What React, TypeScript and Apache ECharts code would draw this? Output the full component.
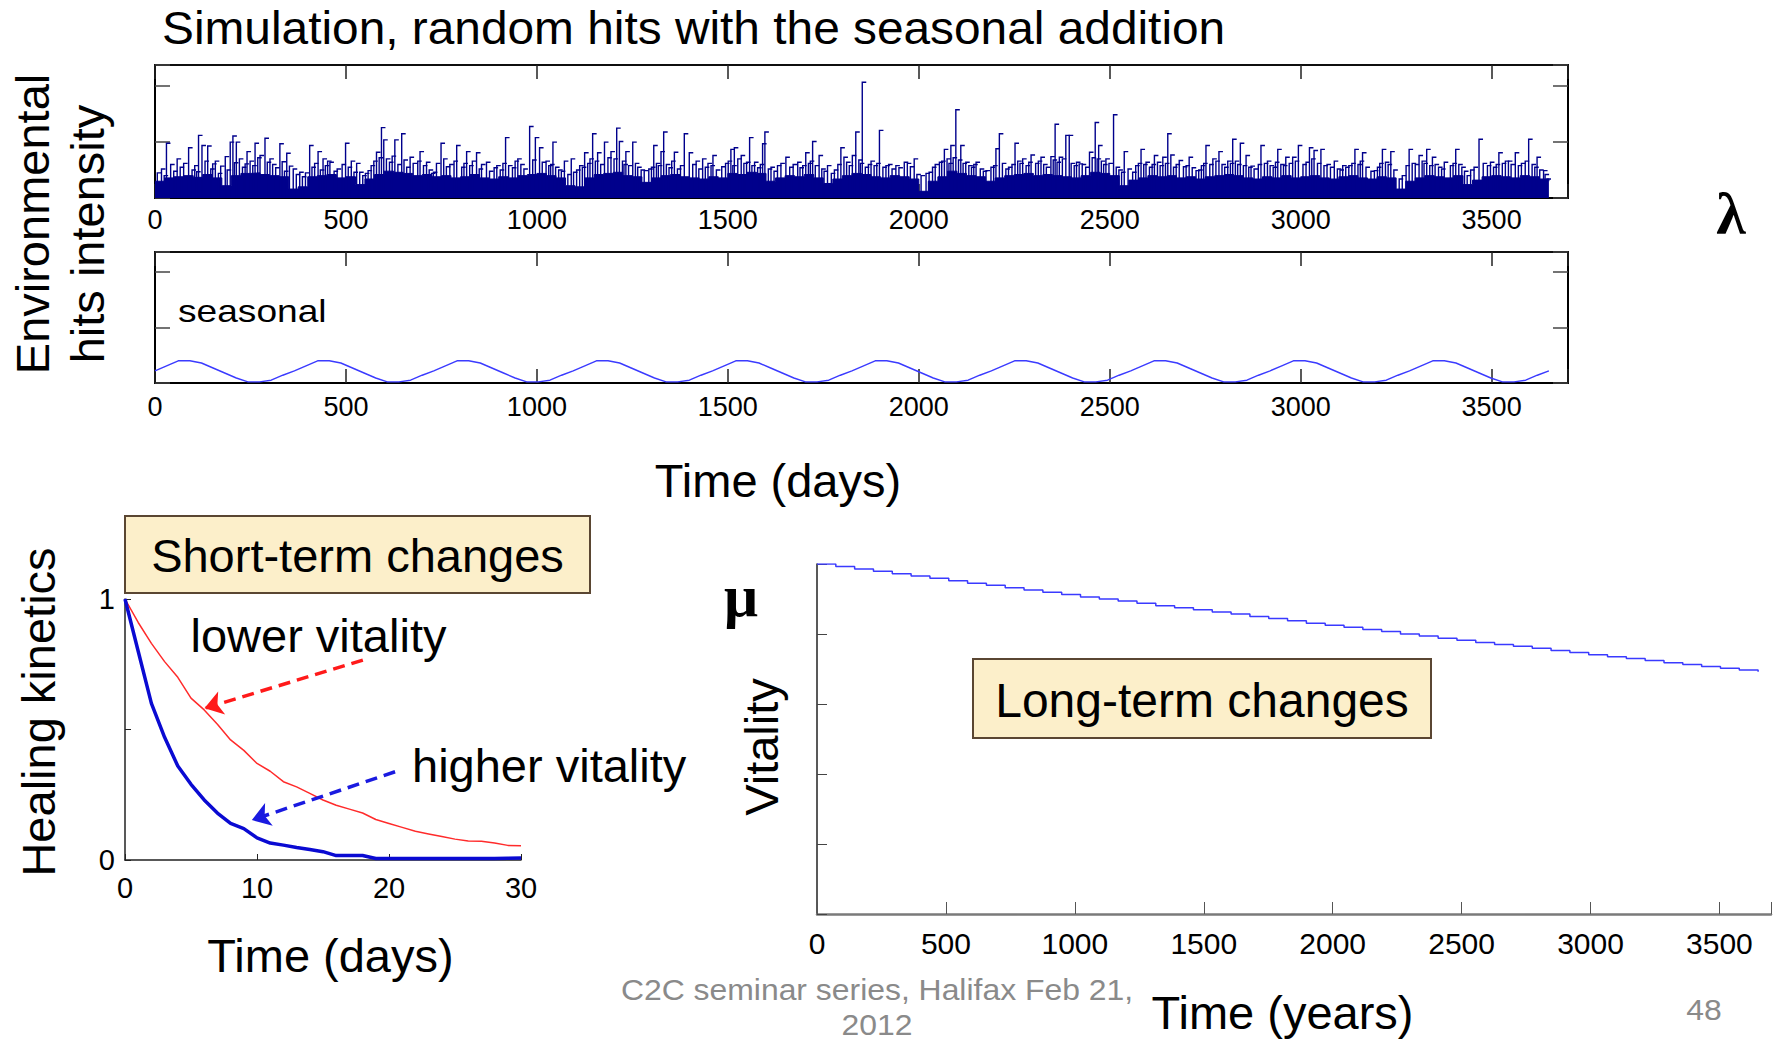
import React, { useEffect, useRef } from "react";
import * as echarts from "echarts";

// ---------- DATA ----------
// Top panel: prominent random hits (day, intensity)
const HIT_DAYS = [
  30, 58, 88, 114, 123, 138, 158, 184, 197, 204, 213, 241, 262, 275, 288, 301, 327, 345, 362, 379,
  405, 427, 440, 458, 499, 514, 536, 558, 580, 593, 599, 628, 646, 668, 694, 711, 729, 749, 790, 816,
  842, 868, 895, 918, 950, 981, 996, 1007, 1024, 1042, 1072, 1090, 1125, 1146, 1159, 1177, 1194, 1209, 1216, 1233,
  1251, 1281, 1306, 1325, 1332, 1360, 1386, 1399, 1417, 1434, 1461, 1508, 1517, 1535, 1557, 1570, 1591, 1597, 1613, 1652,
  1683, 1704, 1722, 1739, 1761, 1796, 1804, 1826, 1835, 1852, 1875, 1897, 1914, 1962, 1988, 2019, 2054, 2067, 2084, 2097,
  2110, 2123, 2150, 2176, 2202, 2211, 2228, 2252, 2272, 2294, 2320, 2346, 2357, 2368, 2385, 2394, 2420, 2447, 2462, 2471,
  2490, 2510, 2538, 2560, 2582, 2595, 2617, 2639, 2652, 2660, 2682, 2708, 2726, 2752, 2770, 2786, 2809, 2822, 2842, 2857,
  2870, 2896, 2913, 2940, 2961, 2979, 2994, 3023, 3035, 3053, 3088, 3110, 3142, 3162, 3193, 3214, 3236, 3258, 3284, 3310,
  3330, 3345, 3376, 3406, 3436, 3467, 3497, 3519, 3536, 3562, 3597, 3619, 3636, 3645,
];
const HIT_VALUES = [
  0.98, 0.7, 0.9, 1.12, 0.94, 0.93, 0.66, 0.74, 1.0, 1.11, 1.0, 0.83, 0.98, 0.76, 1.07, 0.7, 0.97, 0.8, 0.52, 0.46,
  0.94, 0.83, 0.7, 0.64, 0.98, 0.66, 0.46, 0.49, 0.82, 1.26, 1.04, 1.04, 1.15, 0.73, 0.83, 0.64, 0.46, 0.98, 0.94, 0.83,
  0.81, 0.64, 0.58, 1.08, 0.7, 1.28, 1.08, 0.9, 0.66, 1.0, 0.66, 0.7, 0.81, 1.15, 0.81, 1.0, 0.83, 1.25, 1.01, 0.83,
  1.0, 0.49, 0.94, 0.83, 1.18, 0.82, 1.15, 0.81, 0.66, 0.7, 0.76, 0.87, 0.9, 0.76, 1.08, 0.64, 0.97, 1.18, 0.55, 0.73,
  0.64, 0.81, 1.01, 0.76, 0.58, 0.9, 0.73, 0.76, 1.18, 2.07, 0.66, 1.21, 0.58, 0.64, 0.7, 0.44, 0.64, 0.87, 0.94, 1.58,
  0.94, 0.64, 0.64, 0.49, 0.88, 1.15, 0.52, 0.98, 0.7, 0.77, 0.73, 0.74, 1.32, 0.73, 1.12, 1.12, 0.61, 0.82, 1.35, 0.94,
  0.7, 1.49, 0.83, 0.46, 0.87, 0.64, 0.76, 0.73, 1.15, 0.77, 0.67, 0.73, 0.49, 0.94, 0.7, 0.83, 0.66, 1.05, 0.98, 0.76,
  0.57, 0.94, 0.66, 0.87, 0.73, 0.73, 0.94, 0.9, 0.85, 0.87, 0.66, 0.58, 0.87, 0.81, 0.49, 0.87, 0.83, 0.34, 0.87, 0.76,
  0.87, 0.73, 0.64, 0.87, 0.4, 1.05, 0.64, 0.81, 0.66, 0.81, 1.05, 0.73, 0.49, 0.34,
];
// Smaller hits forming the dense texture (day, intensity)
const MID_HIT_DAYS = [
  6, 17, 24, 41, 49, 66, 75, 97, 104, 109, 131, 146, 151, 166, 172, 189,
  208, 221, 229, 236, 249, 256, 269, 294, 308, 316, 333, 339, 352, 370, 386, 394,
  411, 418, 433, 446, 452, 469, 477, 490, 506, 521, 528, 544, 551, 566, 573, 587,
  606, 614, 621, 636, 652, 659, 676, 688, 703, 718, 724, 737, 756, 763, 772, 783,
  803, 809, 824, 831, 849, 855, 876, 888, 904, 911, 926, 936, 943, 958, 966, 989,
  1014, 1031, 1036, 1049, 1057, 1064, 1081, 1096, 1104, 1112, 1119, 1133, 1139, 1153, 1167, 1186,
  1202, 1224, 1228, 1240, 1258, 1264, 1273, 1293, 1300, 1313, 1318, 1339, 1346, 1353, 1368, 1376,
  1408, 1424, 1441, 1448, 1456, 1470, 1484, 1494, 1501, 1513, 1526, 1542, 1549, 1563, 1578, 1585,
  1606, 1621, 1630, 1639, 1662, 1671, 1689, 1696, 1711, 1716, 1729, 1746, 1752, 1771, 1779, 1788,
  1811, 1818, 1843, 1847, 1860, 1868, 1883, 1890, 1906, 1921, 1930, 1940, 1948, 1970, 1978, 1995,
  2006, 2027, 2036, 2043, 2060, 2074, 2079, 2090, 2104, 2116, 2131, 2138, 2144, 2161, 2169, 2189,
  2196, 2219, 2235, 2244, 2259, 2265, 2281, 2288, 2306, 2313, 2327, 2334, 2352, 2362, 2376, 2399,
  2407, 2413, 2428, 2437, 2454, 2467, 2478, 2484, 2498, 2517, 2524, 2531, 2548, 2568, 2575, 2589,
  2604, 2611, 2625, 2632, 2646, 2667, 2674, 2693, 2700, 2716, 2733, 2740, 2746, 2762, 2778, 2794,
  2801, 2816, 2829, 2835, 2850, 2864, 2878, 2889, 2905, 2920, 2928, 2934, 2948, 2955, 2970, 2986,
  3006, 3014, 3029, 3044, 3061, 3069, 3078, 3096, 3103, 3118, 3126, 3134, 3150, 3156, 3171, 3184,
  3201, 3207, 3222, 3229, 3244, 3266, 3276, 3292, 3300, 3318, 3323, 3338, 3352, 3361, 3369, 3392,
  3399, 3414, 3422, 3429, 3445, 3454, 3478, 3489, 3505, 3512, 3528, 3544, 3551, 3570, 3578, 3588,
  3606, 3613, 3626, 3640,
];
const MID_HIT_VALUES = [
  0.45, 0.52, 0.4, 0.6, 0.48, 0.55, 0.62, 0.5, 0.58, 0.47, 0.66, 0.52, 0.61, 0.44, 0.57, 0.5,
  0.63, 0.7, 0.55, 0.61, 0.66, 0.58, 0.72, 0.64, 0.6, 0.54, 0.65, 0.48, 0.57, 0.42, 0.38, 0.45,
  0.55, 0.62, 0.5, 0.58, 0.66, 0.48, 0.52, 0.6, 0.55, 0.46, 0.62, 0.4, 0.44, 0.58, 0.66, 0.72,
  0.7, 0.64, 0.75, 0.6, 0.68, 0.55, 0.62, 0.66, 0.58, 0.5, 0.44, 0.62, 0.7, 0.56, 0.6, 0.66,
  0.55, 0.62, 0.58, 0.66, 0.52, 0.6, 0.48, 0.54, 0.5, 0.62, 0.58, 0.54, 0.66, 0.6, 0.52, 0.68,
  0.64, 0.58, 0.6, 0.55, 0.5, 0.48, 0.42, 0.46, 0.5, 0.58, 0.55, 0.62, 0.7, 0.66, 0.6, 0.72,
  0.7, 0.66, 0.6, 0.58, 0.62, 0.55, 0.5, 0.52, 0.55, 0.62, 0.58, 0.6, 0.54, 0.66, 0.52, 0.58,
  0.6, 0.52, 0.55, 0.62, 0.58, 0.5, 0.56, 0.62, 0.66, 0.58, 0.7, 0.62, 0.64, 0.58, 0.54, 0.6,
  0.52, 0.48, 0.58, 0.62, 0.55, 0.6, 0.54, 0.58, 0.62, 0.66, 0.58, 0.52, 0.48, 0.44, 0.5, 0.6,
  0.64, 0.58, 0.68, 0.62, 0.55, 0.6, 0.58, 0.62, 0.55, 0.6, 0.52, 0.58, 0.54, 0.62, 0.56, 0.42,
  0.4, 0.46, 0.55, 0.6, 0.66, 0.7, 0.62, 0.72, 0.68, 0.62, 0.58, 0.55, 0.6, 0.52, 0.48, 0.55,
  0.58, 0.62, 0.55, 0.6, 0.66, 0.62, 0.58, 0.64, 0.62, 0.66, 0.6, 0.55, 0.68, 0.64, 0.7, 0.62,
  0.58, 0.64, 0.6, 0.55, 0.72, 0.7, 0.66, 0.6, 0.62, 0.55, 0.5, 0.46, 0.52, 0.58, 0.62, 0.6,
  0.55, 0.6, 0.64, 0.58, 0.62, 0.55, 0.6, 0.56, 0.58, 0.54, 0.5, 0.58, 0.62, 0.6, 0.66, 0.6,
  0.55, 0.62, 0.66, 0.6, 0.58, 0.55, 0.52, 0.6, 0.62, 0.58, 0.55, 0.64, 0.6, 0.58, 0.62, 0.66,
  0.6, 0.64, 0.7, 0.62, 0.58, 0.6, 0.55, 0.52, 0.5, 0.55, 0.58, 0.62, 0.6, 0.66, 0.55, 0.48,
  0.55, 0.62, 0.64, 0.6, 0.5, 0.4, 0.58, 0.62, 0.6, 0.66, 0.62, 0.58, 0.6, 0.55, 0.52, 0.58,
  0.62, 0.6, 0.55, 0.48, 0.5, 0.55, 0.62, 0.58, 0.55, 0.6, 0.62, 0.66, 0.6, 0.58, 0.62, 0.66,
  0.6, 0.55, 0.5, 0.42,
];
// Dense low-level hits envelope, one value every 25 days
const BASE_STEP_DAYS = 25;
const BASE_VALUES = [
  0.3, 0.36, 0.38, 0.4, 0.37, 0.42, 0.36, 0.22, 0.4, 0.44,
  0.45, 0.42, 0.4, 0.38, 0.16, 0.2, 0.38, 0.4, 0.42, 0.36,
  0.38, 0.24, 0.34, 0.42, 0.48, 0.46, 0.44, 0.4, 0.42, 0.38,
  0.4, 0.36, 0.38, 0.42, 0.36, 0.34, 0.38, 0.36, 0.4, 0.42,
  0.44, 0.4, 0.36, 0.22, 0.2, 0.36, 0.42, 0.44, 0.46, 0.4,
  0.38, 0.28, 0.36, 0.4, 0.42, 0.38, 0.36, 0.34, 0.38, 0.36,
  0.44, 0.42, 0.46, 0.44, 0.3, 0.36, 0.4, 0.38, 0.42, 0.36,
  0.26, 0.34, 0.4, 0.44, 0.42, 0.38, 0.36, 0.4, 0.38, 0.34,
  0.12, 0.3, 0.38, 0.48, 0.44, 0.4, 0.38, 0.3, 0.36, 0.4,
  0.42, 0.44, 0.4, 0.42, 0.4, 0.38, 0.36, 0.4, 0.46, 0.44,
  0.4, 0.22, 0.32, 0.36, 0.4, 0.38, 0.4, 0.36, 0.38, 0.34,
  0.38, 0.4, 0.42, 0.4, 0.36, 0.34, 0.38, 0.36, 0.4, 0.36,
  0.38, 0.4, 0.36, 0.34, 0.38, 0.4, 0.36, 0.34, 0.38, 0.36,
  0.16, 0.3, 0.36, 0.4, 0.38, 0.36, 0.4, 0.24, 0.32, 0.38,
  0.4, 0.38, 0.36, 0.4, 0.38, 0.34, 0.3,
];
// Seasonal addition, one value per month (10 years)
const SEASON_STEP_DAYS = 365 / 12;
const SEASONAL_VALUES = [
  0.22, 0.31, 0.4, 0.4, 0.36, 0.27, 0.18, 0.09, 0.02, 0.02, 0.05, 0.14,
  0.22, 0.31, 0.4, 0.4, 0.36, 0.27, 0.18, 0.09, 0.02, 0.02, 0.05, 0.14,
  0.22, 0.31, 0.4, 0.4, 0.36, 0.27, 0.18, 0.09, 0.02, 0.02, 0.05, 0.14,
  0.22, 0.31, 0.4, 0.4, 0.36, 0.27, 0.18, 0.09, 0.02, 0.02, 0.05, 0.14,
  0.22, 0.31, 0.4, 0.4, 0.36, 0.27, 0.18, 0.09, 0.02, 0.02, 0.05, 0.14,
  0.22, 0.31, 0.4, 0.4, 0.36, 0.27, 0.18, 0.09, 0.02, 0.02, 0.05, 0.14,
  0.22, 0.31, 0.4, 0.4, 0.36, 0.27, 0.18, 0.09, 0.02, 0.02, 0.05, 0.14,
  0.22, 0.31, 0.4, 0.4, 0.36, 0.27, 0.18, 0.09, 0.02, 0.02, 0.05, 0.14,
  0.22, 0.31, 0.4, 0.4, 0.36, 0.27, 0.18, 0.09, 0.02, 0.02, 0.05, 0.14,
  0.22, 0.31, 0.4, 0.4, 0.36, 0.27, 0.18, 0.09, 0.02, 0.02, 0.05, 0.14,
  0.22,
];
// Healing kinetics (days 0..30)
const HEAL_DAYS = [
  0, 1, 2, 3, 4, 5, 6, 7, 8, 9, 10, 11, 12, 13, 14, 15, 16, 17, 18, 19, 20, 21, 22, 23, 24, 25, 26, 27, 28, 29, 30,
];
const HEAL_LOWER = [
  1.0, 0.91, 0.83, 0.76, 0.7, 0.62, 0.575, 0.52, 0.46, 0.42, 0.37, 0.34, 0.3, 0.28, 0.255, 0.23,
  0.21, 0.195, 0.18, 0.155, 0.14, 0.125, 0.11, 0.1, 0.09, 0.08, 0.073, 0.072, 0.065, 0.056, 0.055,
];
const HEAL_HIGHER = [
  1.0, 0.8, 0.6, 0.47, 0.36, 0.29, 0.23, 0.18, 0.14, 0.12, 0.085, 0.065, 0.057, 0.048, 0.04, 0.032,
  0.017, 0.017, 0.017, 0.006, 0.006, 0.006, 0.006, 0.006, 0.006, 0.006, 0.006, 0.006, 0.006, 0.007, 0.008,
];
// Vitality, one step every 73 days
const VITALITY_STEP_DAYS = 73;
const VITALITY_VALUES = [
  1.0, 0.993, 0.986, 0.979, 0.972, 0.966, 0.959, 0.952, 0.945, 0.939,
  0.932, 0.926, 0.919, 0.913, 0.906, 0.9, 0.894, 0.888, 0.881, 0.875,
  0.869, 0.863, 0.857, 0.85, 0.844, 0.838, 0.831, 0.825, 0.819, 0.813,
  0.807, 0.8, 0.794, 0.788, 0.782, 0.776, 0.77, 0.765, 0.759, 0.753,
  0.747, 0.741, 0.735, 0.73, 0.724, 0.718, 0.713, 0.707, 0.702, 0.697,
  0.692,
];
const DAY_TICK_STEP = 500;
const HEAL_TICKS_SHOWN = [0, 1];

// ---------- STYLE ----------
const NAVY = "#00008c";
const SANS = "'Liberation Sans', Arial, Helvetica, sans-serif";
const NARROW = "'Liberation Sans Narrow', 'Arial Narrow', 'Liberation Sans', Arial, sans-serif";
const SERIF = "'Liberation Serif', 'DejaVu Serif', serif";

const dayLabel = (v: number) => (v % DAY_TICK_STEP === 0 ? String(v) : "");

function frameX(gridIndex: number, position: "top" | "bottom", labels: boolean, margin = 8): any {
  return {
    type: "value",
    gridIndex,
    position,
    min: 0,
    max: 3700,
    interval: DAY_TICK_STEP,
    axisLine: { show: true, onZero: false, lineStyle: { color: "#000", width: position === "bottom" ? 2 : 1.5 } },
    axisTick: { show: true, inside: true, length: 14, lineStyle: { color: "#222", width: 1.5 } },
    axisLabel: labels
      ? { show: true, fontSize: 27, fontFamily: NARROW, color: "#000", margin, formatter: dayLabel }
      : { show: false },
    splitLine: { show: false },
  };
}
function frameY(gridIndex: number, position: "left" | "right", max: number): any {
  return {
    type: "value",
    gridIndex,
    position,
    min: 0,
    max,
    interval: 1,
    axisLine: { show: true, onZero: false, lineStyle: { color: "#000", width: 2 } },
    axisTick: { show: true, inside: true, length: 15, lineStyle: { color: "#444", width: 1.5 } },
    axisLabel: { show: false },
    splitLine: { show: false },
  };
}

function txt(
  text: string,
  x: number,
  y: number,
  opts: { size?: number; align?: string; rotation?: number; scaleX?: number; color?: string; family?: string; weight?: string } = {}
): any {
  const align = opts.align || "center";
  return {
    type: "text",
    x,
    y,
    z: 100,
    rotation: opts.rotation || 0,
    scaleX: opts.scaleX || 1,
    style: {
      text,
      fontSize: opts.size || 47,
      fontFamily: opts.family || SANS,
      fontWeight: opts.weight || "normal",
      fill: opts.color || "#000",
      align,
      verticalAlign: "middle",
      textAlign: align,
      textVerticalAlign: "middle",
    },
  };
}

function spikeRenderer(params: any, api: any) {
  const d = api.value(0);
  const v = api.value(1);
  const p0 = api.coord([d, 0]);
  const p1 = api.coord([d, v]);
  return {
    type: "polyline",
    shape: { points: [p0, p1, [p1[0] + 4, p1[1]]] },
    style: { stroke: NAVY, lineWidth: 1.4, fill: null },
  };
}

function buildOption(): any {
  const hits = HIT_DAYS.map((d, i) => [d, HIT_VALUES[i]]);
  const midHits = MID_HIT_DAYS.map((d, i) => [d, MID_HIT_VALUES[i]]);
  const base = BASE_VALUES.map((v, i) => [i * BASE_STEP_DAYS, v]);
  const seasonal = SEASONAL_VALUES.map((v, i) => [i * SEASON_STEP_DAYS, v]);
  const lower = HEAL_DAYS.map((d, i) => [d, HEAL_LOWER[i]]);
  const higher = HEAL_DAYS.map((d, i) => [d, HEAL_HIGHER[i]]);
  const vitality = VITALITY_VALUES.map((v, i) => [i * VITALITY_STEP_DAYS, v]);

  return {
    animation: false,
    backgroundColor: "#fff",
    grid: [
      { left: 155, top: 65, width: 1413, height: 133, show: true, borderColor: "#000", borderWidth: 1.5, backgroundColor: "transparent" },
      { left: 155, top: 252, width: 1413, height: 131, show: true, borderColor: "#000", borderWidth: 1.5, backgroundColor: "transparent" },
      { left: 125, top: 599, width: 396, height: 261 },
      { left: 817, top: 564, width: 954, height: 350 },
    ],
    xAxis: [
      frameX(0, "bottom", true, 8),
      frameX(0, "top", false),
      frameX(1, "bottom", true, 10),
      frameX(1, "top", false),
      {
        type: "value",
        gridIndex: 2,
        min: 0,
        max: 30,
        interval: 10,
        axisLine: { show: true, onZero: false, lineStyle: { color: "#222", width: 1.5 } },
        axisTick: { show: true, inside: true, length: 6, lineStyle: { color: "#222" } },
        axisLabel: { fontSize: 29, fontFamily: SANS, color: "#000", margin: 13 },
        splitLine: { show: false },
      },
      {
        type: "value",
        gridIndex: 3,
        min: 0,
        max: 3700,
        interval: DAY_TICK_STEP,
        axisLine: { show: true, onZero: false, lineStyle: { color: "#7a7a7a", width: 2.5 } },
        axisTick: { show: true, inside: true, length: 12, lineStyle: { color: "#555", width: 1 } },
        axisLabel: { fontSize: 30, fontFamily: SANS, color: "#000", margin: 14, formatter: dayLabel },
        splitLine: { show: false },
      },
    ],
    yAxis: [
      frameY(0, "left", 2.38),
      frameY(0, "right", 2.38),
      frameY(1, "left", 2.36),
      frameY(1, "right", 2.36),
      {
        type: "value",
        gridIndex: 2,
        min: 0,
        max: 1,
        interval: 0.5,
        axisLine: { show: true, onZero: false, lineStyle: { color: "#222", width: 1.5 } },
        axisTick: { show: true, inside: true, length: 6, lineStyle: { color: "#222" } },
        axisLabel: {
          fontSize: 29,
          fontFamily: SANS,
          color: "#000",
          margin: 10,
          formatter: (v: number) => (HEAL_TICKS_SHOWN.indexOf(v) >= 0 ? String(v) : ""),
        },
        splitLine: { show: false },
      },
      {
        type: "value",
        gridIndex: 3,
        min: 0,
        max: 1,
        interval: 0.2,
        axisLine: { show: true, onZero: false, lineStyle: { color: "#222", width: 1.5 } },
        axisTick: { show: true, inside: true, length: 10, lineStyle: { color: "#444" } },
        axisLabel: { show: false },
        splitLine: { show: false },
      },
    ],
    series: [
      {
        type: "line",
        xAxisIndex: 0,
        yAxisIndex: 0,
        step: "end",
        data: base,
        showSymbol: false,
        symbol: "none",
        lineStyle: { color: NAVY, width: 1 },
        areaStyle: { color: NAVY, opacity: 1 },
        z: 2,
      },
      {
        type: "custom",
        xAxisIndex: 0,
        yAxisIndex: 0,
        data: midHits,
        z: 3,
        renderItem: spikeRenderer,
      },
      {
        type: "custom",
        xAxisIndex: 0,
        yAxisIndex: 0,
        data: hits,
        z: 4,
        renderItem: spikeRenderer,
      },
      {
        type: "line",
        xAxisIndex: 2,
        yAxisIndex: 2,
        data: seasonal,
        showSymbol: false,
        symbol: "none",
        lineStyle: { color: "#3b3bff", width: 1.4 },
      },
      {
        type: "line",
        xAxisIndex: 4,
        yAxisIndex: 4,
        data: lower,
        showSymbol: false,
        symbol: "none",
        lineStyle: { color: "#ff2b2b", width: 1.5 },
        markLine: {
          silent: true,
          symbol: ["none", "arrow"],
          symbolSize: 18,
          label: { show: false },
          lineStyle: { color: "#ff1a1a", width: 3.5, type: [12, 7] },
          data: [[{ coord: [18.02, 0.766] }, { coord: [6.02, 0.581] }]],
        },
      },
      {
        type: "line",
        xAxisIndex: 4,
        yAxisIndex: 4,
        data: higher,
        showSymbol: false,
        symbol: "none",
        lineStyle: { color: "#0a0ad2", width: 3.5 },
        markLine: {
          silent: true,
          symbol: ["none", "arrow"],
          symbolSize: 18,
          label: { show: false },
          lineStyle: { color: "#1a1ae0", width: 3.5, type: [12, 7] },
          data: [[{ coord: [20.46, 0.338] }, { coord: [9.61, 0.153] }]],
        },
      },
      {
        type: "line",
        xAxisIndex: 5,
        yAxisIndex: 5,
        step: "end",
        data: vitality,
        showSymbol: false,
        symbol: "none",
        lineStyle: { color: "#3a3aff", width: 1.5 },
      },
    ],
    graphic: [
      txt("Simulation, random hits with the seasonal addition", 162, 28, { size: 46, align: "left", scaleX: 1.04 }),
      txt("Environmental", 32, 224, { rotation: Math.PI / 2 }),
      txt("hits intensity", 87, 234, { rotation: Math.PI / 2 }),
      txt("seasonal", 178, 311, { size: 32, align: "left", scaleX: 1.16 }),
      txt("\u03bb", 1731, 214, { size: 60, family: SERIF, weight: "bold" }),
      txt("Time (days)", 778, 480),
      {
        type: "rect",
        z: 90,
        shape: { x: 125, y: 516, width: 465, height: 77 },
        style: { fill: "#fcefca", stroke: "#5a4632", lineWidth: 2 },
      },
      txt("Short-term changes", 357.5, 555),
      txt("lower vitality", 190.5, 635, { align: "left" }),
      txt("higher vitality", 412, 765, { align: "left" }),
      txt("Healing kinetics", 38, 712, { rotation: Math.PI / 2 }),
      txt("Time (days)", 330.5, 955),
      txt("\u03bc", 741, 596, { size: 60, family: SERIF, weight: "bold" }),
      txt("Vitality", 761, 747, { rotation: Math.PI / 2 }),
      {
        type: "rect",
        z: 90,
        shape: { x: 973, y: 659, width: 458, height: 79 },
        style: { fill: "#fcefca", stroke: "#5a4632", lineWidth: 2 },
      },
      txt("Long-term changes", 1202, 700, { size: 48 }),
      txt("Time (years)", 1282.5, 1012),
      txt("C2C seminar series, Halifax Feb 21,", 877, 990, { size: 29, scaleX: 1.1, color: "#8a8a8a" }),
      txt("2012", 877, 1025, { size: 29, scaleX: 1.1, color: "#8a8a8a" }),
      txt("48", 1704, 1010, { size: 29, scaleX: 1.1, color: "#8a8a8a" }),
    ],
  };
}

export default function App() {
  const ref = useRef<HTMLDivElement>(null);
  useEffect(() => {
    if (!ref.current) return;
    const chart = echarts.init(ref.current, undefined, { renderer: "svg" });
    chart.setOption(buildOption());
    return () => chart.dispose();
  }, []);
  return (
    <div
      ref={ref}
      style={{ position: "fixed", left: 0, top: 0, width: 1779, height: 1040, background: "#fff" }}
    />
  );
}
